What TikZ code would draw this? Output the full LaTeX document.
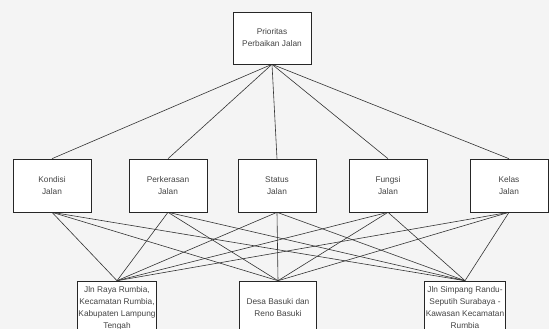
\documentclass[tikz,border=0pt]{standalone}
\usepackage{fontspec}
\setmainfont{Liberation Sans}
\usetikzlibrary{positioning,backgrounds}
\usepackage{xcolor}

\definecolor{bgGray}{HTML}{F4F4F4}
\definecolor{txtGray}{HTML}{444444}

\begin{document}
\begin{tikzpicture}[x=1pt, y=-1pt,
  every node/.style = { shape=rectangle, draw=black!85, fill=white,
	align=center, text=txtGray, inner sep=1pt, line width=0.6pt,
	font=\fontsize{8.3}{12}\selectfont},
  kotak/.style = {minimum width=78pt, minimum height=53pt},
  alt/.style = {minimum width=77pt, minimum height=54pt},
  garis/.style = {draw=black!80, line width=0.6pt}]

\useasboundingbox (0,0) rectangle (549,329);

% goal
\node[kotak, minimum height=52pt] (prio) at (272,38) {Prioritas\\Perbaikan Jalan};

% criteria
\node[kotak] (kondisi)    at (52,185.5)  {Kondisi\\Jalan};
\node[kotak] (perkerasan) at (168,185.5) {Perkerasan\\Jalan};
\node[kotak] (status)     at (277,185.5) {Status\\Jalan};
\node[kotak] (fungsi)     at (388,185.5) {Fungsi\\Jalan};
\node[kotak] (kelas)      at (509,185.5) {Kelas\\Jalan};

% alternatives
\node[alt] (raya)    at (117,308) {Jln Raya Rumbia,\\Kecamatan Rumbia,\\Kabupaten Lampung\\Tengah};
\node[alt] (desa)    at (278,308) {Desa Basuki dan\\Reno Basuki};
\node[alt] (simpang) at (465,308) {Jln Simpang Randu-\\Seputih Surabaya -\\Kawasan Kecamatan\\Rumbia};

\begin{scope}[on background layer]
  \fill[bgGray] (0,0) rectangle (549,329);
  \foreach \k in {kondisi,perkerasan,status,fungsi,kelas} {
	 \draw[garis] (prio.south) -- (\k.north);
	 \foreach \a in {raya,desa,simpang}
		\draw[garis] (\k.south) -- (\a.north);
  }
\end{scope}
\end{tikzpicture}
\end{document}
